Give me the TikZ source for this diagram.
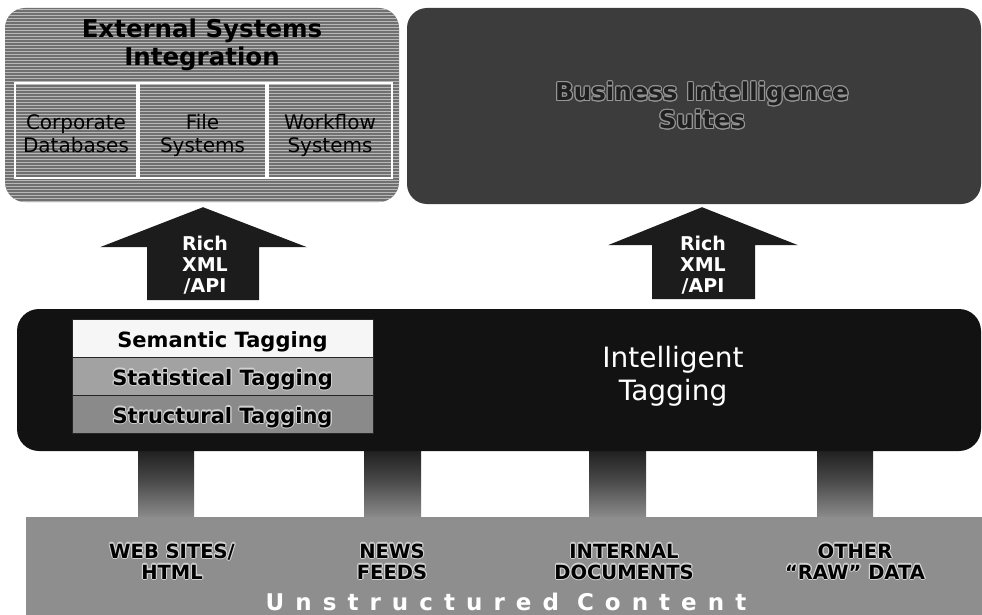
\documentclass[tikz,border=0pt]{standalone}
\usepackage{fontspec}
\setmainfont{DejaVu Sans}
\newfontfamily\trackfont[LetterSpace=48]{DejaVu Sans}
\usepackage[copies]{contour}
\contourlength{1.1pt}
\contournumber{12}
\usetikzlibrary{calc}

\definecolor{extbase}{HTML}{707070}
\definecolor{extline}{HTML}{B8B8B8}
\definecolor{bidark}{HTML}{3C3C3C}
\definecolor{tagblack}{HTML}{121212}
\definecolor{bandgray}{HTML}{8E8E8E}
\definecolor{statgray}{HTML}{A2A2A2}
\definecolor{structgray}{HTML}{8A8A8A}
\definecolor{semwhite}{HTML}{F6F6F6}
\definecolor{arrowblack}{HTML}{1C1C1C}
\definecolor{bitext}{HTML}{202020}
\definecolor{bihalo}{HTML}{969696}
\definecolor{lighthalo}{HTML}{D2D2D2}

% Text with a light rim round it
\newcommand{\halo}[2]{\contour{#1}{#2}}

\begin{document}
\begin{tikzpicture}[x=1pt,y=-1pt,
  panel/.style={rounded corners=20pt, inner sep=0pt},
  sysbox/.style={draw=white, line width=1.3pt, inner sep=0pt},
  systext/.style={font=\fontsize{20}{22}\selectfont, align=center, text=black},
  title/.style={font=\bfseries\fontsize{24.5}{28}\selectfont, align=center},
  uparrow/.style={fill=arrowblack},
  arrowtext/.style={font=\bfseries\fontsize{19}{21}\selectfont, text=white, align=center},
  tagrow/.style={minimum width=301pt, minimum height=38pt, inner sep=0pt,
    draw=black!85, line width=0.8pt, font=\bfseries\fontsize{21}{25}\selectfont,
    text height=18pt, text depth=0pt},
  sourcetext/.style={font=\bfseries\fontsize{19.5}{21}\selectfont, align=center, text=black},
  barshade/.style={top color=tagblack, bottom color=bandgray, middle color=black!72}
]
\useasboundingbox (0,0) rectangle (982,615);

% --- External systems panel (striped) ---
\node[panel, fill=extbase, minimum width=394pt, minimum height=194pt,
  path picture={
    \foreach \k in {0,...,66}{
      \draw[extline, line width=1pt]
        ($(path picture bounding box.north west)+(0,\k*3+1.5)$) -- ++(400,0);
    }
  }] (ext) at (202,105) {};
\node[title, text=black] (exttitle) at (202,46.4) {\strut External Systems\\\strut Integration};

\node[sysbox, minimum width=122pt, minimum height=95pt] (db) at (76,130.5) {};
\node[sysbox, minimum width=127pt, minimum height=95pt] (fs) at (202.5,130.5) {};
\node[sysbox, minimum width=124pt, minimum height=95pt] (wf) at (330,130.5) {};
\node[systext] (dbtext) at (76,136.6) {\strut Corporate\\\strut Databases};
\node[systext] (fstext) at (202.5,136.6) {\strut File\\\strut Systems};
\node[systext] (wftext) at (330,136.6) {\strut Workflow\\\strut Systems};

% --- Business intelligence panel ---
\node[panel, fill=bidark, minimum width=574pt, minimum height=196pt] (bi) at (694,106) {};
\node[title, text=bitext] (bititle) at (702,109)
  {\strut\halo{bihalo}{Business Intelligence}\\\strut\halo{bihalo}{Suites}};

% --- Source connectors (shaded bars) ---
\shade[barshade] (138,440) rectangle (194,519);
\shade[barshade] (364,440) rectangle (421,519);
\shade[barshade] (589,440) rectangle (646,519);
\shade[barshade] (817,440) rectangle (873,519);

% --- Intelligent tagging layer ---
\node[rounded corners=22pt, fill=tagblack, inner sep=0pt,
  minimum width=964pt, minimum height=142pt] (tag) at (499,380) {};
\node[text=white, font=\fontsize{28}{33}\selectfont, align=center] (tagtitle) at (673,377)
  {\strut Intelligent\\\strut Tagging};

\node[tagrow, fill=semwhite] (sem) at (222.5,338) {Semantic Tagging};
\node[tagrow, fill=statgray] (stat) at (222.5,376) {\halo{lighthalo}{Statistical Tagging}};
\node[tagrow, fill=structgray] (struct) at (222.5,414) {\halo{lighthalo}{Structural Tagging}};

% --- Upward arrows ---
\fill[uparrow] ($(ext.south)+(1,5)$) -- ++(104,40) -- ++(-48,0) -- ++(0,53)
  -- ++(-112,0) -- ++(0,-53) -- ++(-47,0) -- cycle;
\node[arrowtext] (api1) at (205,267) {\strut Rich\\\strut XML\\\strut /API};

\fill[uparrow] ($(bi.south)+(8,3)$) -- ++(96,38) -- ++(-43,0) -- ++(0,54)
  -- ++(-103,0) -- ++(0,-54) -- ++(-44,0) -- cycle;
\node[arrowtext] (api2) at (703,267) {\strut Rich\\\strut XML\\\strut /API};

% --- Unstructured content band ---
\node[fill=bandgray, inner sep=0pt, minimum width=956pt, minimum height=100pt] (band) at (504,567) {};
\node[sourcetext] (web) at (172,564.3)
  {\strut\halo{lighthalo}{WEB SITES/}\\\strut\halo{lighthalo}{HTML}};
\node[sourcetext] (news) at (392,564.3)
  {\strut\halo{lighthalo}{NEWS}\\\strut\halo{lighthalo}{FEEDS}};
\node[sourcetext] (docs) at (624,564.3)
  {\strut\halo{lighthalo}{INTERNAL}\\\strut\halo{lighthalo}{DOCUMENTS}};
\node[sourcetext] (raw) at (855,564.3)
  {\strut\halo{lighthalo}{OTHER}\\\strut\halo{lighthalo}{“RAW” DATA}};
\node[anchor=base, text=white, inner sep=0pt,
  font=\trackfont\bfseries\fontsize{23}{26}\selectfont] (content)
  at (506,610) {Unstructured\hspace{18pt}Content};
\end{tikzpicture}
\end{document}
